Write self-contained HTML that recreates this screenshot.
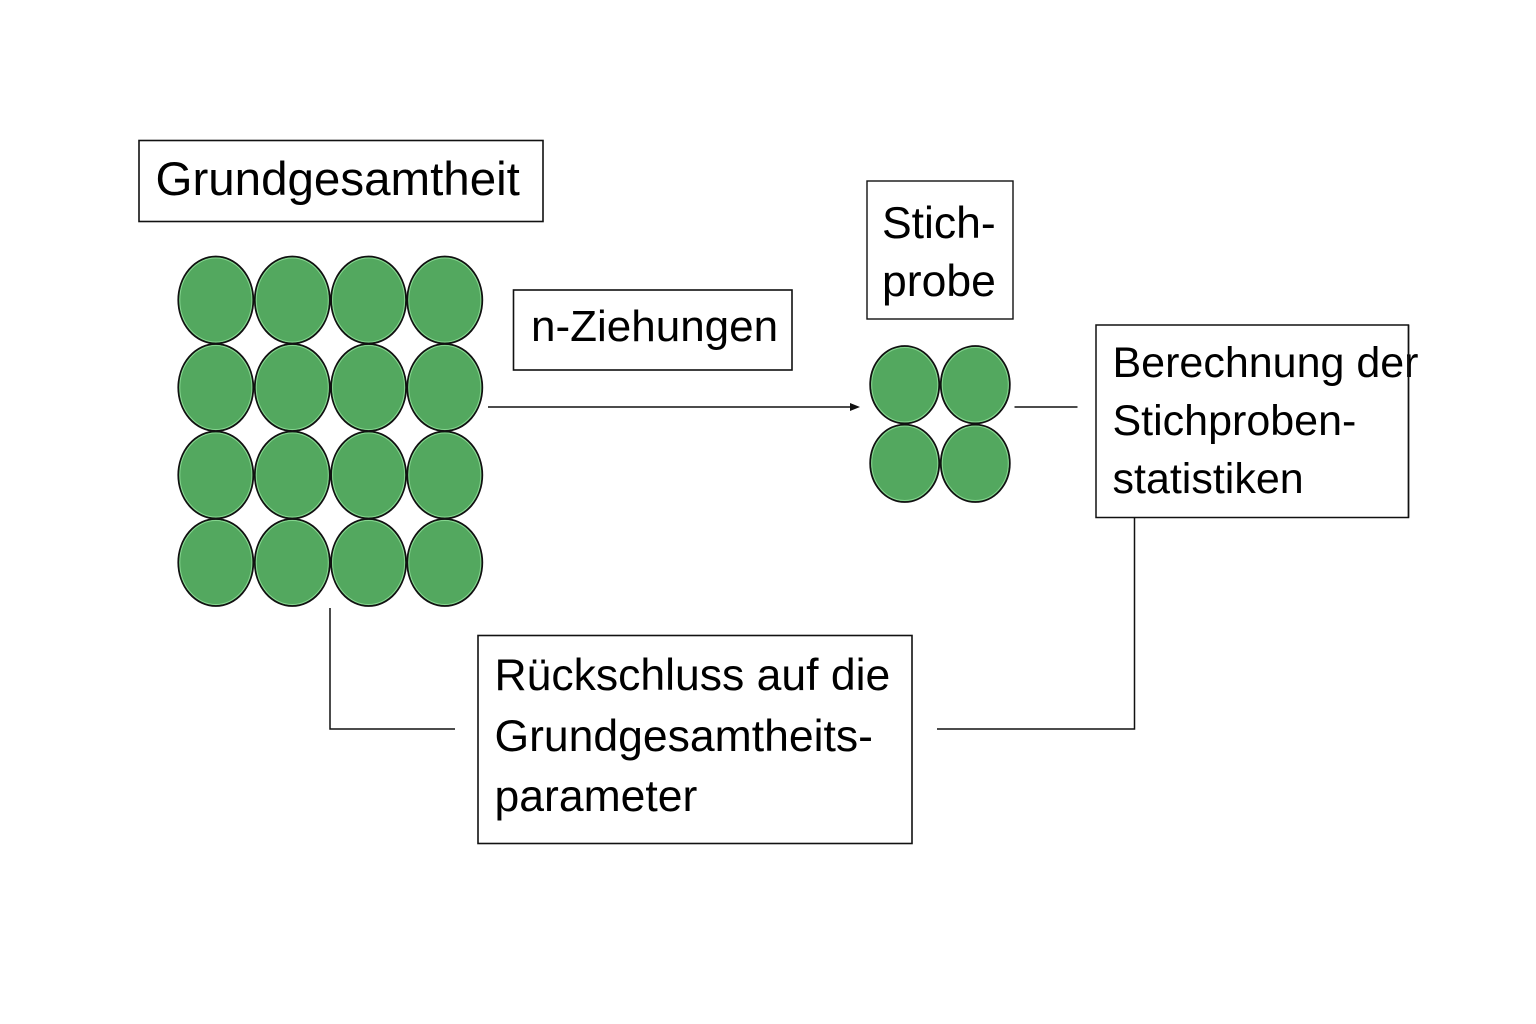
<!DOCTYPE html>
<html>
<head>
<meta charset="utf-8">
<style>
  html, body { margin: 0; padding: 0; background: #ffffff; }
  body { width: 1536px; height: 1024px; overflow: hidden; }
  svg { display: block; }
  text { font-family: "Liberation Sans", Arial, sans-serif; fill: #000; }
</style>
</head>
<body>
<svg width="1536" height="1024" viewBox="0 0 1536 1024" xmlns="http://www.w3.org/2000/svg">
  <defs>
    <g id="c">
      <ellipse cx="0" cy="0" rx="37.5" ry="43.5" fill="#53a85f" stroke="#111" stroke-width="1.8"/>
      <ellipse cx="0" cy="0" rx="36" ry="42" fill="none" stroke="#86d690" stroke-width="1"/>
    </g>
    <g id="s">
      <ellipse cx="0" cy="0" rx="34.5" ry="38.7" fill="#53a85f" stroke="#111" stroke-width="1.8"/>
      <ellipse cx="0" cy="0" rx="33" ry="37.2" fill="none" stroke="#86d690" stroke-width="1"/>
    </g>
  </defs>
  <rect width="1536" height="1024" fill="#ffffff"/>

  <!-- Grundgesamtheit box -->
  <rect x="139" y="140.5" width="404" height="81" fill="#fff" stroke="#111" stroke-width="1.6"/>
  <text x="155.5" y="195" font-size="47.5">Grundgesamtheit</text>

  <!-- 4x4 circles -->
  <use href="#c" x="215.8" y="300"/>
  <use href="#c" x="292.3" y="300"/>
  <use href="#c" x="368.6" y="300"/>
  <use href="#c" x="444.8" y="300"/>
  <use href="#c" x="215.8" y="387.5"/>
  <use href="#c" x="292.3" y="387.5"/>
  <use href="#c" x="368.6" y="387.5"/>
  <use href="#c" x="444.8" y="387.5"/>
  <use href="#c" x="215.8" y="475"/>
  <use href="#c" x="292.3" y="475"/>
  <use href="#c" x="368.6" y="475"/>
  <use href="#c" x="444.8" y="475"/>
  <use href="#c" x="215.8" y="562.5"/>
  <use href="#c" x="292.3" y="562.5"/>
  <use href="#c" x="368.6" y="562.5"/>
  <use href="#c" x="444.8" y="562.5"/>

  <!-- n-Ziehungen box -->
  <rect x="513.5" y="290" width="278.5" height="80" fill="#fff" stroke="#111" stroke-width="1.6"/>
  <text x="531" y="341" font-size="44">n-Ziehungen</text>

  <!-- arrow -->
  <line x1="488" y1="407" x2="852" y2="407" stroke="#111" stroke-width="1.5"/>
  <polygon points="860,407 850,403 850,411" fill="#111"/>

  <!-- Stichprobe box -->
  <rect x="867" y="181" width="146" height="138" fill="#fff" stroke="#111" stroke-width="1.4"/>
  <text x="882" y="238" font-size="44.5">Stich-</text>
  <text x="882" y="296" font-size="44.5">probe</text>

  <!-- 2x2 circles -->
  <use href="#s" x="904.7" y="384.7"/>
  <use href="#s" x="975.3" y="384.7"/>
  <use href="#s" x="904.7" y="463.3"/>
  <use href="#s" x="975.3" y="463.3"/>

  <!-- connector to Berechnung -->
  <line x1="1014.5" y1="407" x2="1077.5" y2="407" stroke="#111" stroke-width="1.5"/>

  <!-- Berechnung box -->
  <rect x="1096" y="325" width="312.5" height="192.5" fill="#fff" stroke="#111" stroke-width="1.5"/>
  <text x="1112.5" y="377" font-size="43">Berechnung der</text>
  <text x="1112.5" y="435" font-size="43">Stichproben-</text>
  <text x="1112.5" y="493" font-size="43">statistiken</text>
  <!-- redraw right border over text as in reference -->
  <line x1="1408.5" y1="325" x2="1408.5" y2="517.5" stroke="#111" stroke-width="1.5"/>

  <!-- right connector -->
  <polyline points="1134.5,517.5 1134.5,729 937,729" fill="none" stroke="#111" stroke-width="1.5"/>
  <!-- left connector -->
  <polyline points="330,608 330,729 455,729" fill="none" stroke="#111" stroke-width="1.5"/>

  <!-- Rückschluss box -->
  <rect x="478" y="635.5" width="434" height="208" fill="#fff" stroke="#111" stroke-width="1.6"/>
  <text x="494.5" y="690" font-size="44.5">Rückschluss auf die</text>
  <text x="494.5" y="751" font-size="44.5">Grundgesamtheits-</text>
  <text x="494.5" y="811" font-size="44.5">parameter</text>
</svg>
</body>
</html>
